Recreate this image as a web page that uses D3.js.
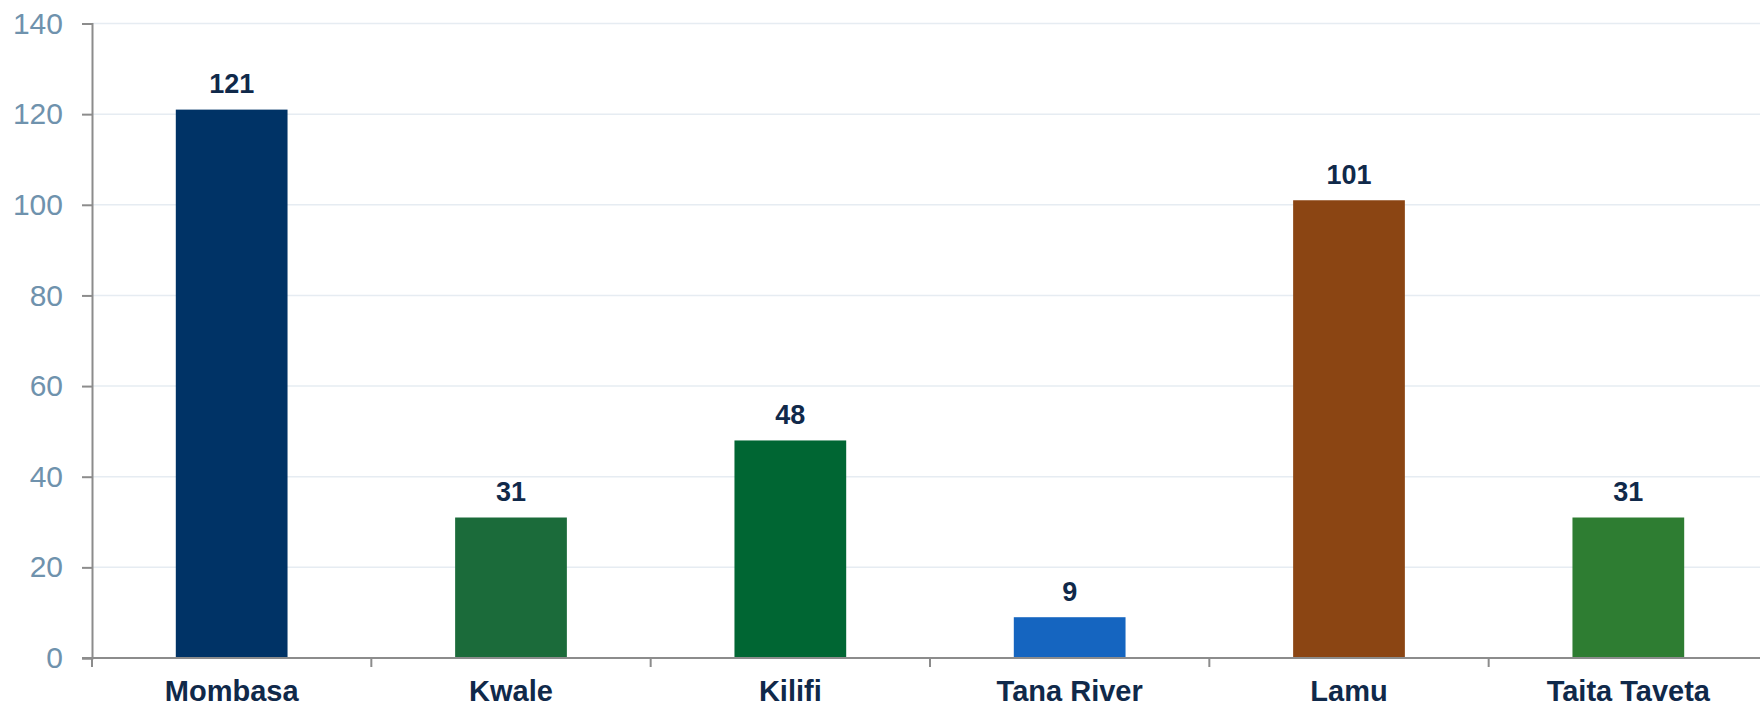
<!DOCTYPE html>
<html>
<head>
<meta charset="utf-8">
<script src="https://cdn.jsdelivr.net/npm/d3@7"></script>
<style>
  html, body { margin: 0; padding: 0; background: #ffffff; }
  svg { display: block; font-family: "Liberation Sans", Arial, sans-serif; }
</style>
</head>
<body>
<svg id="chart" width="1760" height="707"></svg>
<script>
const categories = ["Mombasa", "Kwale", "Kilifi", "Tana River", "Lamu", "Taita Taveta"];
const values = [121, 31, 48, 9, 101, 31];
const colors = ["#003366", "#1b6b3a", "#006633", "#1565c0", "#8b4513", "#2e7d32"];
const yTicks = [0, 20, 40, 60, 80, 100, 120, 140];

const svg = d3.select("#chart");
const x0 = 92, x1 = 1768, yBottom = 658, yTop = 23.5;

const x = d3.scaleBand().domain(categories).range([x0, x1]).padding(0);
const y = d3.scaleLinear().domain([0, 140]).range([yBottom, yTop]);
const barW = x.bandwidth() * 0.4;

// grid lines
svg.append("g").selectAll("line")
  .data(yTicks.filter(d => d > 0))
  .join("line")
  .attr("x1", x0).attr("x2", 1760)
  .attr("y1", d => y(d)).attr("y2", d => y(d))
  .attr("stroke", "#e6ecf2").attr("stroke-width", 1.5);

// bars
svg.append("g").selectAll("rect")
  .data(categories)
  .join("rect")
  .attr("x", (d) => x(d) + (x.bandwidth() - barW) / 2)
  .attr("width", barW)
  .attr("y", (d, i) => y(values[i]))
  .attr("height", (d, i) => y(0) - y(values[i]))
  .attr("fill", (d, i) => colors[i]);

// value labels
svg.append("g").selectAll("text")
  .data(categories)
  .join("text")
  .attr("x", d => x(d) + x.bandwidth() / 2)
  .attr("y", (d, i) => y(values[i]) - 16.5)
  .attr("text-anchor", "middle")
  .attr("font-size", 27)
  .attr("font-weight", "bold")
  .attr("fill", "#10294a")
  .text((d, i) => values[i]);

// y axis
const yAxis = svg.append("g")
  .attr("transform", `translate(${x0},0)`)
  .call(d3.axisLeft(y).tickValues(yTicks).tickSize(10).tickPadding(19));
yAxis.select(".domain").attr("stroke", "#8c8c8c").attr("stroke-width", 2);
yAxis.selectAll(".tick line").attr("stroke", "#8c8c8c").attr("stroke-width", 2);
yAxis.selectAll(".tick text")
  .attr("font-size", 30)
  .attr("fill", "#6f92ad")
  .attr("font-family", "'Liberation Sans', Arial, sans-serif");

// x axis
const xAxis = svg.append("g")
  .attr("transform", `translate(0,${yBottom})`)
  .call(d3.axisBottom(x).tickSize(0).tickPadding(22));
xAxis.select(".domain").remove();
xAxis.selectAll(".tick text")
  .attr("font-size", 29)
  .attr("font-weight", "bold")
  .attr("fill", "#10294a")
  .attr("font-family", "'Liberation Sans', Arial, sans-serif");

// x axis line and boundary ticks
svg.append("line")
  .attr("x1", 82).attr("x2", 1760)
  .attr("y1", yBottom).attr("y2", yBottom)
  .attr("stroke", "#8c8c8c").attr("stroke-width", 2);
const bounds = categories.map(d => x(d));
svg.append("g").selectAll("line")
  .data(bounds)
  .join("line")
  .attr("x1", d => d).attr("x2", d => d)
  .attr("y1", yBottom).attr("y2", yBottom + 9)
  .attr("stroke", "#8c8c8c").attr("stroke-width", 2);
</script>
</body>
</html>
